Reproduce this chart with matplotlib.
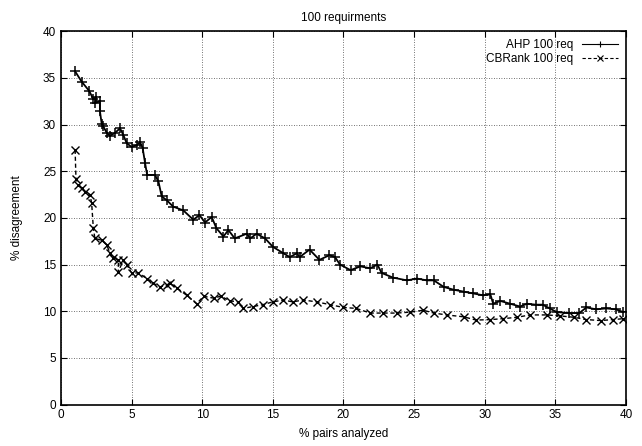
import matplotlib.pyplot as plt

plt.rcParams['font.family'] = ['Liberation Sans', 'DejaVu Sans']

# values (x = % pairs analyzed, y = % disagreement)
ahp_x = [1.0, 1.46, 2.0, 2.29, 2.5, 2.4, 2.76, 2.76, 2.88, 3.0, 3.24, 3.47, 3.82, 4.18,
         4.41, 4.65, 5.0, 5.36, 5.6, 5.78, 5.95, 6.1, 6.65, 6.9, 7.13, 7.48, 7.95, 8.66,
         9.37, 9.8, 10.2, 10.67, 11.0, 11.5, 11.85, 12.3, 13.15, 13.4, 13.85, 14.45, 15.0,
         15.75, 16.2, 16.7, 16.9, 17.6, 18.3, 19.0, 19.4, 19.75, 20.5, 21.2, 21.9, 22.4,
         22.7, 23.5, 24.5, 25.2, 25.9, 26.4, 27.1, 27.8, 28.5, 29.2, 29.9, 30.4, 30.6,
         31.1, 31.8, 32.5, 33.0, 33.6, 34.1, 34.6, 35.1, 36.0, 36.7, 37.2, 37.9, 38.6,
         39.3, 39.8]
ahp_y = [35.7, 34.6, 33.6, 32.7, 33.0, 32.3, 32.5, 31.4, 30.1, 29.8, 29.1, 28.8, 29.1, 29.6,
         28.9, 28.0, 27.6, 27.8, 28.1, 27.5, 25.9, 24.6, 24.6, 23.9, 22.3, 21.9, 21.2, 20.8,
         19.8, 20.3, 19.5, 20.1, 18.9, 18.0, 18.7, 17.8, 18.3, 17.8, 18.3, 17.8, 16.9,
         16.2, 15.8, 16.2, 15.8, 16.6, 15.5, 16.0, 15.8, 15.0, 14.4, 14.8, 14.6, 15.0,
         14.1, 13.6, 13.3, 13.5, 13.3, 13.3, 12.6, 12.3, 12.1, 11.9, 11.7, 11.8, 10.8,
         11.1, 10.8, 10.5, 10.8, 10.7, 10.7, 10.3, 9.9, 9.8, 9.8, 10.4, 10.2, 10.3,
         10.2, 9.9]

cbr_x = [1.0, 1.06, 1.23, 1.46, 1.7, 2.05, 2.17, 2.29, 2.4, 2.88, 3.24, 3.47, 3.7, 4.06,
         4.06, 4.41, 4.65, 5.0, 5.47, 6.07, 6.53, 7.0, 7.48, 7.7, 8.2, 8.9, 9.6, 10.1,
         10.8, 11.3, 12.0, 12.55, 12.9, 13.6, 14.3, 15.0, 15.75, 16.4, 17.15, 18.1, 19.05,
         20.0, 20.9, 21.9, 22.8, 23.8, 24.7, 25.65, 26.4, 27.3, 28.5, 29.4, 30.4, 31.3,
         32.3, 33.2, 34.4, 35.3, 36.3, 37.2, 38.2, 39.1, 39.8]
cbr_y = [27.3, 24.2, 23.5, 23.2, 22.8, 22.5, 21.6, 18.9, 17.8, 17.6, 17.1, 16.2, 15.7, 15.5,
         14.2, 15.5, 15.0, 14.1, 14.1, 13.5, 13.0, 12.6, 12.8, 13.0, 12.5, 11.7, 10.8, 11.6,
         11.4, 11.6, 11.1, 11.0, 10.3, 10.5, 10.7, 11.0, 11.2, 11.0, 11.2, 11.0, 10.7,
         10.4, 10.3, 9.8, 9.8, 9.8, 9.9, 10.1, 9.8, 9.6, 9.4, 9.05, 9.1, 9.2,
         9.35, 9.6, 9.6, 9.5, 9.35, 9.1, 9.0, 9.1, 9.2]

fig = plt.figure(figsize=(6.42, 4.46), dpi=100)
ax = fig.add_axes([0.095, 0.093, 0.88, 0.837])

ax.plot(ahp_x, ahp_y, color='black', lw=1.3, marker='+', ms=7, mew=1.1,
        label='AHP 100 req')
ax.plot(cbr_x, cbr_y, color='black', lw=1.0, ls=(0, (3, 2)), marker='x', ms=5.5, mew=1.0,
        label='CBRank 100 req')

ax.set_xlim(0, 40)
ax.set_ylim(0, 40)
ax.set_xticks(range(0, 41, 5))
ax.set_yticks(range(0, 41, 5))
ax.tick_params(direction='in', top=True, right=True, labelsize=8.5, length=4)
ax.grid(True, color='#444444', ls=(0, (1, 2)), lw=0.6)
for s in ax.spines.values():
    s.set_linewidth(1.2)

ax.set_title('100 requirments', fontsize=8.5, pad=7)
ax.set_xlabel('% pairs analyzed', fontsize=8.5, labelpad=5)
ax.set_ylabel('% disagreement', fontsize=8.5, labelpad=14)

leg = ax.legend(loc='upper right', frameon=False, markerfirst=False, fontsize=8.5,
                handlelength=3, borderaxespad=0.3, labelspacing=0.1)
# thinner sample lines in the key, like the reference
for ln in leg.get_lines():
    ln.set_linewidth(0.8)
    ln.set_markersize(5)
    ln.set_markeredgewidth(0.8)

fig.savefig('out.png', dpi=100)
